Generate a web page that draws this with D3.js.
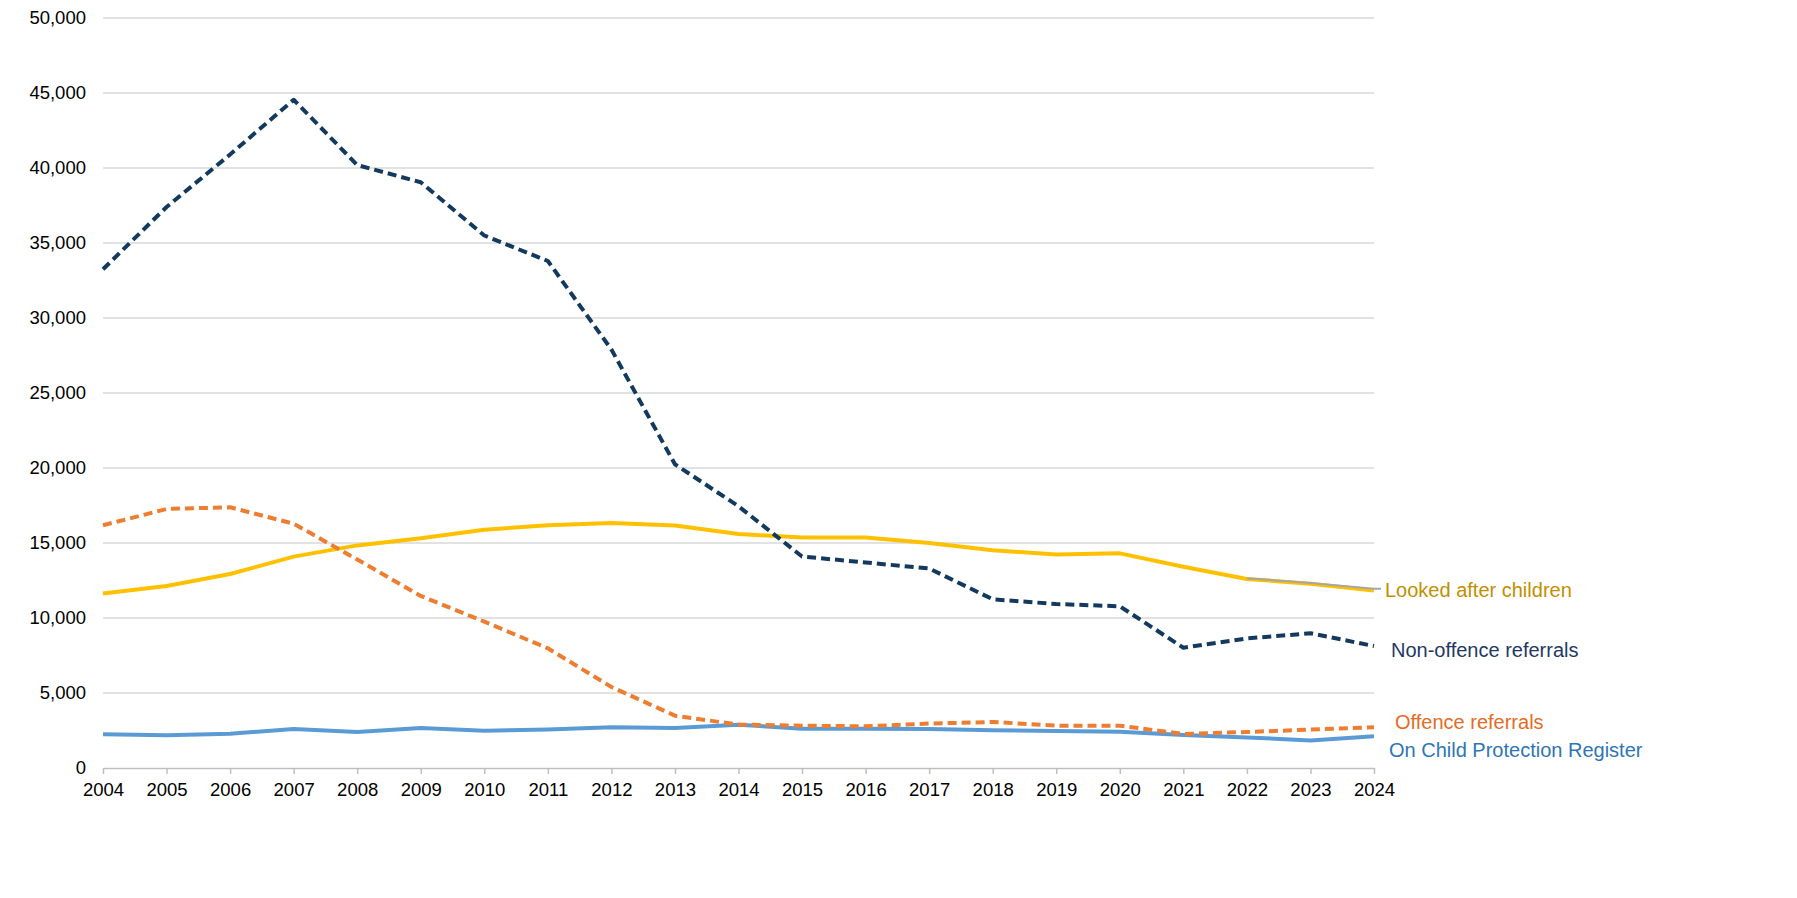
<!DOCTYPE html>
<html>
<head>
<meta charset="utf-8">
<script src="https://cdn.jsdelivr.net/npm/d3@7"></script>
<style>
  body { margin: 0; background: #fff; }
  text { font-family: "Liberation Sans", Arial, sans-serif; }
</style>
</head>
<body>
<div id="chart"></div>
<script>
// --data--
const years = [2004, 2005, 2006, 2007, 2008, 2009, 2010, 2011, 2012, 2013, 2014,
               2015, 2016, 2017, 2018, 2019, 2020, 2021, 2022, 2023, 2024];
const nonOffence = [33250, 37400, 40900, 44550, 40200, 39050, 35500, 33800, 27900, 20250, 17450,
                    14100, 13700, 13300, 11250, 10930, 10780, 8020, 8640, 8980, 8130];
const offence = [16180, 17270, 17380, 16290, 13900, 11470, 9760, 7980, 5400, 3490, 2890,
                 2820, 2780, 2960, 3070, 2820, 2820, 2270, 2400, 2560, 2710];
const lookedAfter = [11640, 12130, 12930, 14090, 14840, 15310, 15890, 16180, 16330, 16170, 15600,
                     15360, 15360, 15000, 14510, 14240, 14310, 13420, 12600, 12290, 11840];
const protection = [2250, 2180, 2290, 2600, 2400, 2670, 2490, 2560, 2710, 2670, 2890,
                    2620, 2620, 2600, 2510, 2470, 2420, 2200, 2040, 1840, 2110];
// thin grey trace lying over the last yellow stretch
const greyYears = [2022, 2023, 2024];
const greyValues = [12650, 12340, 11950];
const yTicks = [0, 5000, 10000, 15000, 20000, 25000, 30000, 35000, 40000, 45000, 50000];

const WIDTH = 1797, HEIGHT = 898;

var svg = d3.select("#chart")
  .append("svg")
  .attr("width", WIDTH)
  .attr("height", HEIGHT);

var x = d3.scaleLinear().domain([2004, 2024]).range([103, 1374]);
var y = d3.scaleLinear().domain([0, 50000]).range([768, 18]);

// --grid + axes--
svg.append("g")
  .selectAll("line")
  .data(yTicks.filter(t => t > 0))
  .join("line")
  .attr("x1", x(2004)).attr("x2", x(2024))
  .attr("y1", d => y(d)).attr("y2", d => y(d))
  .attr("stroke", "#d9d9d9")
  .attr("stroke-width", 1.5);

var yAxis = svg.append("g")
  .attr("transform", `translate(${x(2004)},0)`)
  .call(d3.axisLeft(y).tickValues(yTicks).tickFormat(d3.format(",")).tickSize(0).tickPadding(17));
yAxis.select(".domain").remove();
yAxis.selectAll("text")
  .style("font-size", "18.5px")
  .attr("fill", "#000");

var xAxis = svg.append("g")
  .attr("transform", `translate(0,${y(0)})`)
  .call(d3.axisBottom(x).tickValues(years).tickFormat(d3.format("d")).tickSize(6).tickSizeOuter(0).tickPadding(9));
xAxis.select(".domain").attr("stroke", "#bfbfbf").attr("stroke-width", 1.5);
xAxis.selectAll(".tick line").attr("stroke", "#bfbfbf").attr("stroke-width", 1.5);
xAxis.selectAll("text")
  .style("font-size", "18.5px")
  .attr("fill", "#000");

// --lines--
function line_for(xs) {
  return d3.line()
    .x((d, i) => x(xs[i]))
    .y(d => y(d));
}

const series = [
  { values: lookedAfter, color: "#ffc000", dash: null },
  { values: protection, color: "#5b9bd5", dash: null },
  { values: offence, color: "#ed7d31", dash: "9,5" },
  { values: nonOffence, color: "#133a5e", dash: "9,5" }
];

series.forEach(function(s) {
  svg.append("path")
    .datum(s.values)
    .attr("d", line_for(years))
    .attr("fill", "none")
    .attr("stroke", s.color)
    .attr("stroke-width", 4)
    .attr("stroke-linejoin", "round")
    .attr("stroke-dasharray", s.dash);
});

svg.append("path")
  .datum(greyValues)
  .attr("d", line_for(greyYears))
  .attr("fill", "none")
  .attr("stroke", "#a6a6a6")
  .attr("stroke-width", 2);
svg.append("line")
  .attr("x1", x(2024)).attr("x2", x(2024) + 7)
  .attr("y1", y(greyValues[2])).attr("y2", y(greyValues[2]))
  .attr("stroke", "#a6a6a6")
  .attr("stroke-width", 2);

// --end labels--
const labels = [
  { text: "Looked after children", last: lookedAfter[20], color: "#bf9000", dx: 11, dy: 0 },
  { text: "Non-offence referrals", last: nonOffence[20], color: "#1f3864", dx: 17, dy: 4 },
  { text: "Offence referrals", last: offence[20], color: "#e46c24", dx: 21, dy: -5 },
  { text: "On Child Protection Register", last: protection[20], color: "#2e75b6", dx: 15, dy: 14 }
];

svg.append("g")
  .selectAll("text")
  .data(labels)
  .join("text")
  .attr("x", d => x(2024) + d.dx)
  .attr("y", d => y(d.last) + d.dy)
  .attr("dy", "0.35em")
  .style("font-size", "20px")
  .attr("fill", d => d.color)
  .text(d => d.text);
</script>
</body>
</html>
